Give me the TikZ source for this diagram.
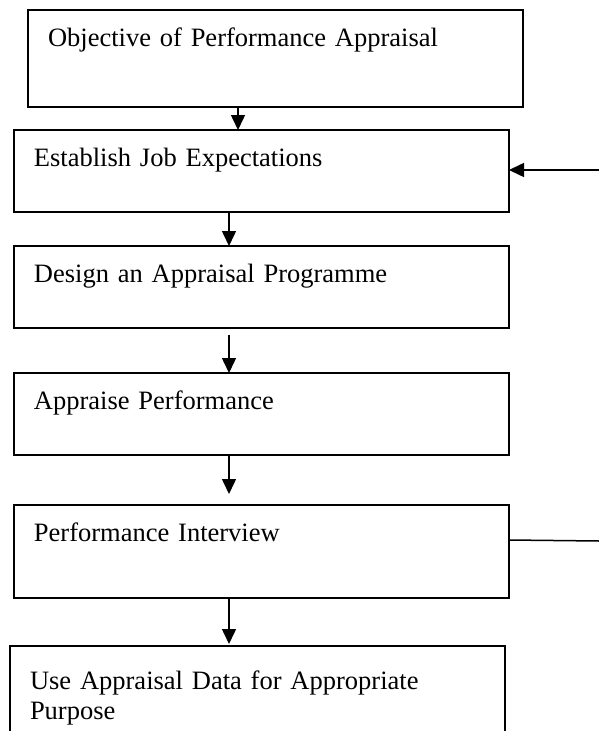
\documentclass[tikz,border=0pt]{standalone}
\usepackage{fontspec}
\setmainfont{Liberation Serif}
\usetikzlibrary{arrows.meta,calc}
\tikzset{
  stepbox/.style={draw, line width=1.5pt, anchor=north west, align=left,
    outer sep=0pt, text width=455pt, inner xsep=20pt, inner ysep=9pt,
    text height=27pt, font=\fontsize{26.5}{30.5}\selectfont},
  flowarr/.style={-{Triangle[length=15pt,width=14pt]}, line width=1.5pt},
}

\begin{document}
\begin{tikzpicture}[x=1pt, y=-1pt]
  \useasboundingbox (0,0) rectangle (599,731);
  % Steps, top to bottom
  \node[stepbox, text depth=52pt] at (28,10)  (obj)  {Objective of Performance Appraisal};
  \node[stepbox, text depth=37pt] at (14,130) (expt) {Establish Job Expectations};
  \node[stepbox, text depth=37pt] at (14,246) (prog) {Design an Appraisal Programme};
  \node[stepbox, text depth=37pt] at (14,373) (appr) {Appraise Performance};
  \node[stepbox, text depth=48pt] at (14,505) (intv) {Performance Interview};
  \node[stepbox, text height=34pt, text depth=80pt] at (10,646) (use)
    {Use Appraisal Data for Appropriate\\Purpose};
  % Spine of the downward arrows
  \coordinate (spineA) at (238,0);
  \coordinate (spine)  at (229,0);
  \draw[flowarr] (obj.south -| spineA) -- (expt.north -| spineA);
  \draw[flowarr] (expt.south -| spine) -- (prog.north -| spine);
  \draw[flowarr, shorten <=7pt] (prog.south -| spine) -- (appr.north -| spine);
  \draw[flowarr, shorten >=11pt] (appr.south -| spine) -- (intv.north -| spine);
  \draw[flowarr, shorten >=2pt] (intv.south -| spine) -- (use.north -| spine);
  % Feedback loop, cut at the right margin
  \coordinate (fbin)  at (599,170);
  \coordinate (fbout) at (599,541);
  \draw[flowarr] (fbin) -- (fbin -| expt.east);
  \draw[line width=1.5pt] ($(intv.north east)+(0,35)$) -- (fbout);
\end{tikzpicture}
\end{document}
